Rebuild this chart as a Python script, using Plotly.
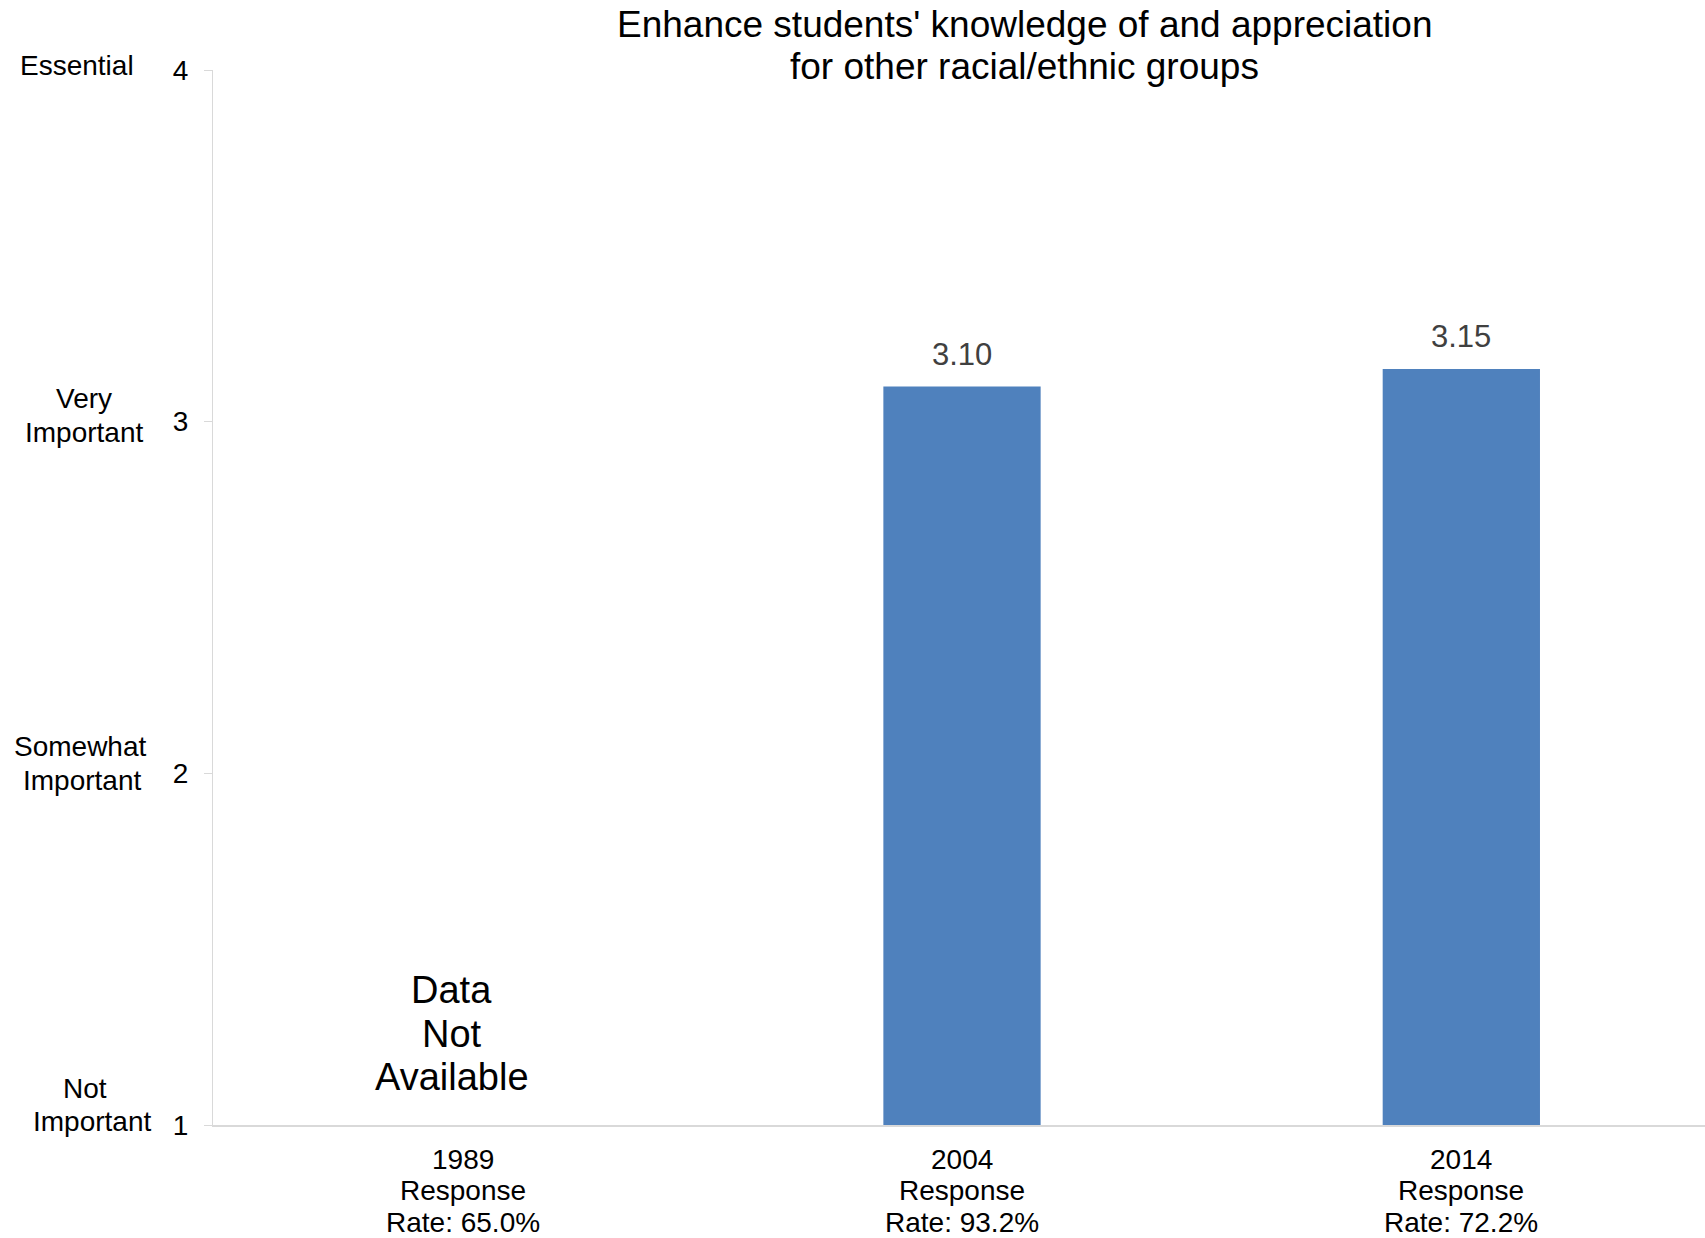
import plotly.graph_objects as go

years = ["1989", "2004", "2014"]
response_rates = ["65.0%", "93.2%", "72.2%"]
values = [None, 3.10, 3.15]
y_tick_vals = [1, 2, 3, 4]
y_tick_words = [["Not", "Important"], ["Somewhat", "Important"], ["Very", "Important"], ["Essential"]]
title_lines = ["Enhance students' knowledge of and appreciation", "for other racial/ethnic groups"]
missing_lines = ["Data", "Not", "Available"]

FONT = "Liberation Sans, Arial, sans-serif"
W, H = 1705, 1238
L, R, T, B = 213, 0, 70, 113
PW = W - L - R


def paper_x(px):
    return (px - L) / PW


fig = go.Figure()
fig.add_trace(go.Bar(
    x=years, y=values, width=0.315,
    marker=dict(color="#4F81BD", line=dict(width=0)),
    hoverinfo="x+y",
))

annotations = []
# value labels / missing-data note (x given as category index)
for idx, v in enumerate(values):
    if v is not None:
        annotations.append(dict(x=idx, y=v, xref="x", yref="y", text=f"{v:.2f}",
                                showarrow=False, yanchor="bottom", yshift=13,
                                font=dict(family=FONT, size=31, color="#404040")))
    else:
        for i, line in enumerate(missing_lines):
            annotations.append(dict(x=idx, y=1, xref="x", yref="y", text=line,
                                    showarrow=False, xshift=-11, yanchor="middle",
                                    yshift=135 - 43.5 * i,
                                    font=dict(family=FONT, size=38, color="#000000")))

# category labels (three lines each)
for idx, (yr, rr) in enumerate(zip(years, response_rates)):
    lines = [yr, "Response", f"Rate: {rr}"]
    for i, line in enumerate(lines):
        annotations.append(dict(x=idx, y=0, xref="x", yref="paper", text=line,
                                showarrow=False, yanchor="middle",
                                yshift=-(34 + 31.5 * i),
                                font=dict(family=FONT, size=28, color="#000000")))

# y word labels
word_pos = {
    1: [(85, 37), (92, 4)],
    2: [(80, 27), (82, -7)],
    3: [(84, 23), (84, -11)],
    4: [(77, 5)],
}
for tv, words in zip(y_tick_vals, y_tick_words):
    for w, (px, dy) in zip(words, word_pos[tv]):
        annotations.append(dict(x=paper_x(px), xref="paper", y=tv, yref="y", text=w,
                                showarrow=False, xanchor="center", yanchor="middle",
                                yshift=dy,
                                font=dict(family=FONT, size=28, color="#000000")))

# title (two lines, tight spacing)
for line, dy in zip(title_lines, [46, 4]):
    annotations.append(dict(x=paper_x(1024), xref="paper", y=1, yref="paper",
                            yshift=dy, yanchor="middle", xanchor="center",
                            showarrow=False, text=line,
                            font=dict(family=FONT, size=37, color="#000000")))

fig.update_layout(
    width=W, height=H,
    margin=dict(l=L, r=R, t=T, b=B, pad=0, autoexpand=False),
    paper_bgcolor="white", plot_bgcolor="white",
    showlegend=False,
    annotations=annotations,
)
fig.update_xaxes(
    type="category", categoryorder="array", categoryarray=years,
    range=[-0.5, -0.5 + len(years) * 1492 / 1498], autorange=False,
    showgrid=False, showline=True, linecolor="#D9D9D9", linewidth=1.5,
    ticks="", showticklabels=False,
)
fig.update_yaxes(
    range=[1, 4], autorange=False, tickvals=y_tick_vals, ticktext=[str(v) for v in y_tick_vals],
    showgrid=False, zeroline=False, showline=True, linecolor="#D9D9D9", linewidth=1,
    ticks="outside", ticklen=8, tickcolor="#D9D9D9", ticklabelstandoff=10,
    tickfont=dict(family=FONT, size=28, color="#000000"),
)

fig.write_html("out.html", config={"displayModeBar": False},
               post_script="document.body.style.margin='0';document.body.style.overflow='hidden';")
